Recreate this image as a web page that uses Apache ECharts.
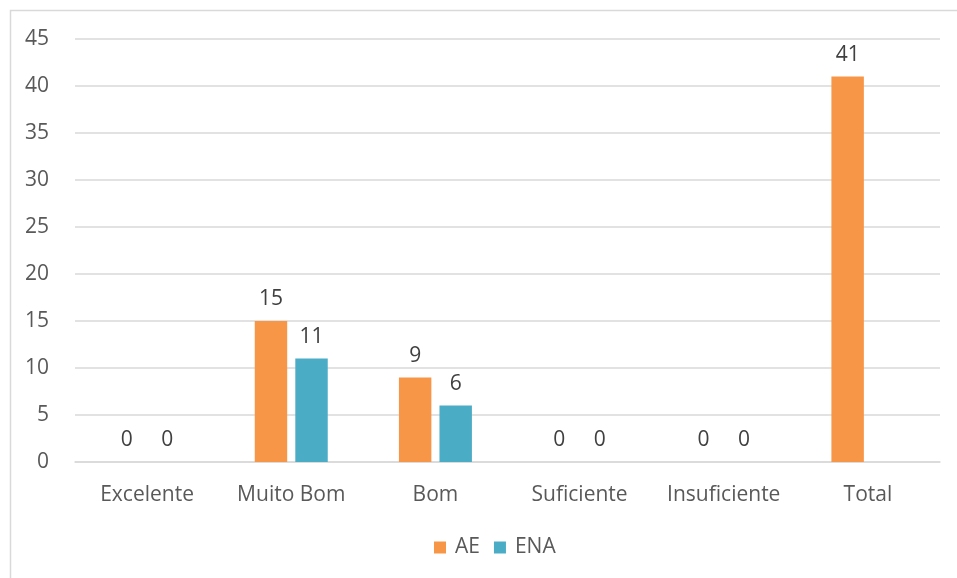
<!DOCTYPE html>
<html>
<head>
<meta charset="utf-8">
<script src="https://cdn.jsdelivr.net/npm/echarts@6/dist/echarts.min.js"></script>
<style>
  html, body { margin: 0; padding: 0; background: #fff; }
  #chart { width: 957px; height: 578px; }
</style>
</head>
<body>
<div id="chart"></div>
<script>
// Rating categories and counts per group
const categories = ['Excelente', 'Muito Bom', 'Bom', 'Suficiente', 'Insuficiente', 'Total'];
const aeValues = [0, 15, 9, 0, 0, 41];
const enaValues = [0, 11, 6, 0, 0, null];
const seriesNames = ['AE', 'ENA'];

const textColor = '#595959';
const fontFamily = '"Open Sans", "Noto Sans", sans-serif';
const fontSize = 21;

const chart = echarts.init(document.getElementById('chart'));

const labelStyle = {
  show: true,
  position: 'top',
  distance: 11,
  color: '#404040',
  fontSize: fontSize,
  fontFamily: fontFamily
};

chart.setOption({
  animation: false,
  backgroundColor: '#ffffff',
  textStyle: { fontFamily: fontFamily },
  graphic: [{
    type: 'rect',
    shape: { x: 10.5, y: 10.5, width: 1000, height: 600 },
    style: { fill: 'none', stroke: '#d9d9d9', lineWidth: 1.5 },
    silent: true
  }],
  grid: { left: 75, right: 17, top: 39, bottom: 116, containLabel: false },
  legend: {
    data: seriesNames,
    bottom: 15,
    left: 429,
    itemWidth: 12,
    itemHeight: 12,
    itemGap: 14,
    icon: 'rect',
    textStyle: { color: textColor, fontSize: fontSize, fontFamily: fontFamily, padding: [0, 0, 0, 4] }
  },
  xAxis: {
    type: 'category',
    data: categories,
    axisLine: { show: true, lineStyle: { color: '#d9d9d9', width: 1.5 } },
    axisTick: { show: false },
    axisLabel: { color: textColor, fontSize: fontSize, fontFamily: fontFamily, margin: 23, interval: 0, hideOverlap: false }
  },
  yAxis: {
    type: 'value',
    min: 0,
    max: 45,
    interval: 5,
    axisLine: { show: false },
    axisTick: { show: false },
    axisLabel: { color: textColor, fontSize: fontSize, fontFamily: fontFamily, margin: 26 },
    splitLine: { lineStyle: { color: '#d9d9d9', width: 1.5 } }
  },
  series: [
    {
      name: seriesNames[0],
      type: 'bar',
      data: aeValues,
      barWidth: '22.5%',
      barGap: '25%',
      itemStyle: { color: '#F79646' },
      label: labelStyle
    },
    {
      name: seriesNames[1],
      type: 'bar',
      data: enaValues,
      barWidth: '22.5%',
      barGap: '25%',
      itemStyle: { color: '#4BACC6' },
      label: labelStyle
    }
  ]
});
</script>
</body>
</html>
